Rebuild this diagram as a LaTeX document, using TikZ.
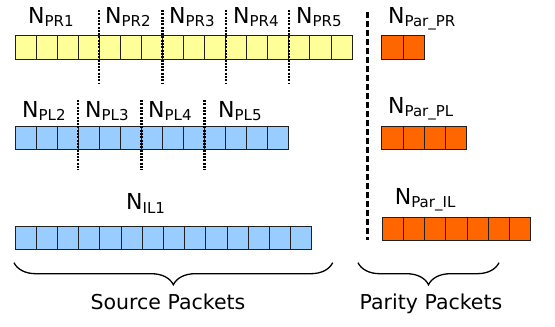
\documentclass[tikz,border=0pt]{standalone}
\usepackage{fontspec}
\setmainfont{DejaVu Sans}
\usetikzlibrary{decorations.pathreplacing}
\definecolor{srcyellow}{HTML}{FFFF99}
\definecolor{srcblue}{HTML}{99CCFF}
\definecolor{parorange}{HTML}{FF6600}
\definecolor{edge}{HTML}{202020}
% N with a lowered, smaller subscript
\newcommand{\nsub}[1]{N\raisebox{-3.7pt}{\fontsize{15pt}{16pt}\selectfont #1}}
\tikzset{
  cell/.style={draw=edge, line width=1pt, minimum width=21.07pt, minimum height=23.3pt,
    inner sep=0pt, outer sep=0pt, anchor=north west},
  ycell/.style={cell, fill=srcyellow},
  bcell/.style={cell, fill=srcblue},
  ocell/.style={cell, fill=parorange},
  lab/.style={anchor=base west, inner sep=0pt, font=\fontsize{22pt}{23pt}\selectfont},
  divider/.style={line width=2.3pt, dash pattern=on 2pt off 1.3pt},
  split/.style={line width=2.5pt, dash pattern=on 6pt off 3pt},
  curly/.style={line width=1.3pt, decorate, decoration={brace, amplitude=22pt}},
  caption/.style={anchor=base, inner sep=0pt, font=\fontsize{20.5pt}{22pt}\selectfont},
}

\begin{document}
\begin{tikzpicture}[x=1pt, y=-1pt]
  \fill[white] (0,0) rectangle (555,327);
  \useasboundingbox (0,0) rectangle (555,327);

  % source rows
  \foreach \i in {1,...,16}
    \node[ycell] (pr\i) at ({15+(\i-1)*21.07},35.7) {};
  \foreach \i in {1,...,13}
    \node[bcell, minimum height=22.6pt] (pl\i) at ({15+(\i-1)*21.07},126.7) {};
  \foreach \i in {1,...,14}
    \node[bcell, minimum width=21.2pt, minimum height=22.6pt] (il\i) at ({15+(\i-1)*21.2},226.7) {};

  % parity rows
  \foreach \i in {1,2}
    \node[ocell, minimum width=21.3pt] (ppr\i) at ({381.7+(\i-1)*21.3},35.7) {};
  \foreach \i in {1,...,4}
    \node[ocell, minimum width=21.3pt] (ppl\i) at ({381.7+(\i-1)*21.3},126) {};
  \foreach \i in {1,...,7}
    \node[ocell, minimum width=21.2pt, minimum height=22.7pt] (pil\i) at ({382.3+(\i-1)*21.2},217.3) {};

  % packet boundaries
  \foreach \k in {4,7,10,13}
    \draw[divider] (pr\k.north east |- 0,10) -- (pr\k.north east |- 0,84);
  \foreach \k in {3,6,9}
    \draw[divider] (pl\k.north east |- 0,100) -- (pl\k.north east |- 0,170);

  \draw[split] (367.3,12) -- (367.3,240);

  % labels
  \node[lab] (npr1) at (28,23) {\nsub{PR1}};
  \node[lab] (npr2) at (105,23) {\nsub{PR2}};
  \node[lab] (npr3) at (169,23) {\nsub{PR3}};
  \node[lab] (npr4) at (233,23) {\nsub{PR4}};
  \node[lab] (npr5) at (296,23) {\nsub{PR5}};
  \node[lab] (npl2) at (22,117) {\nsub{PL2}};
  \node[lab] (npl3) at (85,117) {\nsub{PL3}};
  \node[lab] (npl4) at (148,117) {\nsub{PL4}};
  \node[lab] (npl5) at (218,117) {\nsub{PL5}};
  \node[lab] (nil1) at (126,209.3) {\nsub{IL1}};
  \node[lab] (nparpr) at (388,23) {\nsub{Par\_PR}};
  \node[lab] (nparpl) at (388,113) {\nsub{Par\_PL}};
  \node[lab] (nparil) at (394.7,204) {\nsub{Par\_IL}};

  % braces
  \draw[curly] (332.7,262.7) -- (14,262.7);
  \draw[curly] (499,262.7) -- (358,262.7);
  \node[caption] (src) at (168,309) {Source Packets};
  \node[caption] (par) at (431,309) {Parity Packets};
\end{tikzpicture}
\end{document}
